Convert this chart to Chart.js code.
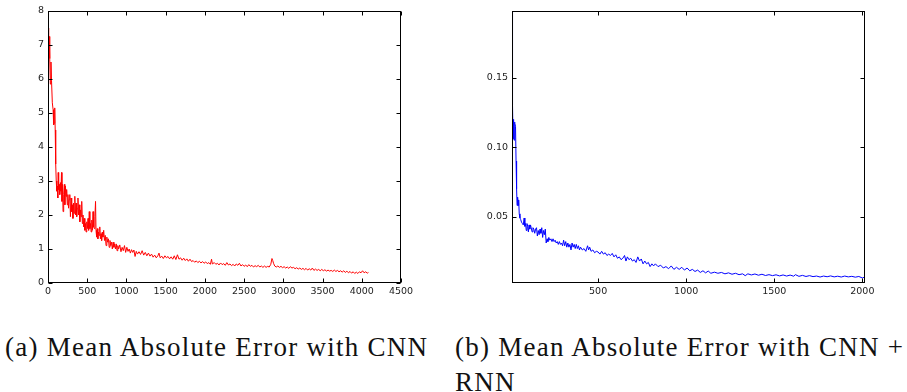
<!DOCTYPE html>
<html>
<head>
<meta charset="utf-8">
<script src="https://cdn.jsdelivr.net/npm/chart.js@4/dist/chart.umd.min.js"></script>
<style>
    body { margin: 0; background: #fff; width: 907px; height: 392px; overflow: hidden; position: relative; }
    .panel { position: absolute; top: 0; }
    .caption { position: absolute; font-family: "Liberation Serif", serif; font-size: 27px; letter-spacing: 1.25px; line-height: 35px; color: #111; white-space: nowrap; }
</style>
</head>
<body>
<div class="panel" style="left:0px"><canvas id="cnn" width="430" height="305"></canvas></div>
<div class="panel" style="left:460px"><canvas id="rnn" width="447" height="305"></canvas></div>
<div class="caption" style="left:5px; top:330px">(a) Mean Absolute Error with CNN</div>
<div class="caption" style="left:455px; top:330px">(b) Mean Absolute Error with CNN +<br>RNN</div>
<script>
// (a) CNN: training step vs mean absolute error
var cnnSteps = [0, 8, 15, 22, 30, 38, 45, 55, 65, 72, 80, 86, 92, 98, 105, 112, 118, 125, 130, 136,
    142, 150, 158, 165, 172, 178, 185, 192, 200, 208, 215, 222, 230, 238, 246, 254, 262, 270, 278, 286,
    294, 302, 310, 318, 326, 334, 342, 350, 358, 366, 374, 382, 390, 398, 406, 414, 422, 430, 438, 446,
    454, 462, 470, 478, 486, 494, 502, 510, 518, 526, 534, 542, 550, 558, 566, 574, 582, 590, 598, 606,
    612, 620, 628, 636, 644, 652, 660, 668, 676, 684, 692, 700, 710, 720, 730, 740, 750, 760, 770, 780,
    790, 800, 810, 820, 830, 840, 850, 860, 870, 880, 890, 900, 915, 930, 945, 960, 975, 990, 1005, 1020,
    1035, 1050, 1065, 1080, 1095, 1110, 1125, 1140, 1160, 1180, 1200, 1220, 1240, 1260, 1280, 1300, 1320, 1340, 1360, 1380,
    1400, 1415, 1430, 1450, 1470, 1490, 1510, 1530, 1550, 1570, 1590, 1610, 1630, 1650, 1670, 1690, 1710, 1730, 1750, 1770,
    1790, 1810, 1830, 1850, 1870, 1890, 1910, 1930, 1950, 1970, 1990, 2010, 2030, 2050, 2070, 2085, 2095, 2120, 2140, 2160,
    2180, 2200, 2220, 2240, 2260, 2280, 2300, 2320, 2340, 2360, 2380, 2400, 2420, 2440, 2460, 2480, 2500, 2520, 2540, 2560,
    2580, 2600, 2620, 2640, 2660, 2680, 2700, 2720, 2740, 2760, 2780, 2800, 2820, 2840, 2855, 2865, 2875, 2890, 2910, 2930,
    2950, 2970, 2990, 3010, 3030, 3050, 3070, 3090, 3110, 3130, 3150, 3170, 3190, 3210, 3230, 3250, 3270, 3290, 3310, 3330,
    3350, 3370, 3390, 3410, 3430, 3450, 3470, 3490, 3510, 3530, 3550, 3570, 3590, 3610, 3630, 3650, 3670, 3690, 3710, 3730,
    3750, 3770, 3790, 3810, 3830, 3850, 3870, 3890, 3910, 3930, 3950, 3970, 3990, 4010, 4030, 4050, 4070, 4085]
var cnnError = [7.5, 6.9, 7.25, 6.6, 5.85, 6.5, 5.95, 5.3, 5.1, 4.65, 4.7, 5.15, 4.5, 3.5, 3.0, 2.7, 2.85, 2.5, 3.25, 2.75,
    2.9, 2.6, 2.95, 2.7, 3.25, 2.4, 2.9, 2.1, 2.6, 2.9, 2.3, 2.85, 2.55, 2.75, 2.3, 2.6, 2.2, 2.45, 2.6, 1.95,
    2.5, 2.1, 2.3, 1.9, 2.35, 2.05, 2.55, 2.0, 2.35, 1.95, 2.2, 2.5, 2.0, 2.3, 1.8, 2.15, 1.95, 2.4, 1.75, 2.0,
    1.65, 1.9, 1.55, 1.75, 1.5, 1.8, 1.6, 1.9, 1.55, 2.1, 1.6, 1.75, 1.5, 1.85, 1.55, 2.1, 1.65, 1.6, 1.95, 2.4,
    1.55, 1.35, 1.6, 1.3, 1.5, 1.4, 1.65, 1.3, 1.45, 1.25, 1.5, 1.35, 1.55, 1.25, 1.4, 1.1, 1.35, 1.2, 1.3, 1.05,
    1.25, 1.1, 1.2, 1.0, 1.2, 1.05, 1.15, 1.0, 1.15, 0.95, 1.1, 1.0, 1.12, 0.92, 1.05, 0.95, 1.1, 0.9, 1.05, 0.93,
    1.0, 0.88, 0.98, 0.9, 0.97, 0.78, 0.93, 0.85, 0.92, 0.84, 0.95, 0.82, 0.9, 0.8, 0.88, 0.79, 0.85, 0.76, 0.82, 0.74,
    0.8, 0.88, 0.74, 0.79, 0.72, 0.8, 0.74, 0.78, 0.71, 0.77, 0.7, 0.8, 0.69, 0.83, 0.7, 0.74, 0.67, 0.73, 0.66, 0.71,
    0.64, 0.7, 0.63, 0.66, 0.61, 0.65, 0.6, 0.64, 0.59, 0.63, 0.58, 0.62, 0.57, 0.6, 0.55, 0.7, 0.56, 0.6, 0.55, 0.58,
    0.53, 0.59, 0.54, 0.57, 0.52, 0.6, 0.53, 0.56, 0.51, 0.55, 0.5, 0.56, 0.52, 0.58, 0.5, 0.54, 0.49, 0.53, 0.48, 0.54,
    0.49, 0.52, 0.47, 0.51, 0.48, 0.52, 0.47, 0.5, 0.46, 0.5, 0.46, 0.49, 0.47, 0.55, 0.72, 0.66, 0.58, 0.5, 0.47, 0.5,
    0.46, 0.49, 0.45, 0.48, 0.44, 0.47, 0.43, 0.48, 0.44, 0.46, 0.42, 0.45, 0.41, 0.44, 0.4, 0.43, 0.39, 0.43, 0.38, 0.42,
    0.38, 0.44, 0.37, 0.41, 0.37, 0.4, 0.36, 0.4, 0.36, 0.39, 0.35, 0.38, 0.35, 0.37, 0.34, 0.38, 0.34, 0.37, 0.33, 0.36,
    0.32, 0.36, 0.31, 0.35, 0.3, 0.34, 0.29, 0.33, 0.28, 0.32, 0.28, 0.33, 0.3, 0.36, 0.3, 0.33, 0.29, 0.31]
var cnnXTicks = [0, 500, 1000, 1500, 2000, 2500, 3000, 3500, 4000, 4500]
var cnnYTicks = [0, 1, 2, 3, 4, 5, 6, 7, 8]

// (b) CNN + RNN
var rnnSteps = [11, 13, 15, 17, 19, 21, 23, 25, 28, 31, 34, 37, 40, 43, 46, 49, 52, 56, 60, 65,
    70, 75, 80, 84, 88, 92, 96, 100, 104, 108, 112, 116, 120, 125, 130, 135, 140, 145, 150, 155,
    160, 165, 170, 175, 180, 185, 190, 195, 200, 205, 210, 215, 220, 226, 232, 238, 244, 250, 256, 262,
    268, 274, 280, 286, 292, 298, 304, 310, 316, 322, 328, 334, 340, 346, 352, 358, 364, 370, 376, 382,
    388, 394, 400, 410, 420, 430, 440, 446, 452, 460, 470, 480, 490, 500, 510, 520, 530, 540, 550, 560,
    570, 580, 590, 600, 610, 620, 630, 640, 650, 658, 666, 675, 685, 695, 705, 715, 725, 735, 745, 755,
    765, 775, 785, 795, 805, 815, 825, 840, 855, 870, 885, 900, 915, 930, 945, 960, 975, 990, 1005, 1020,
    1035, 1050, 1065, 1080, 1095, 1110, 1125, 1140, 1160, 1180, 1200, 1220, 1240, 1260, 1280, 1300, 1320, 1335, 1350, 1370,
    1390, 1410, 1430, 1450, 1470, 1490, 1510, 1530, 1550, 1570, 1590, 1610, 1620, 1640, 1660, 1680, 1700, 1720, 1740, 1760,
    1780, 1800, 1820, 1840, 1860, 1880, 1900, 1920, 1940, 1960, 1980, 2000, 2015]
var rnnError = [0.198, 0.16, 0.13, 0.106, 0.12, 0.119, 0.105, 0.118, 0.117, 0.115, 0.09, 0.07, 0.058, 0.064, 0.058, 0.062, 0.052, 0.049, 0.048, 0.046,
    0.045, 0.044, 0.049, 0.043, 0.045, 0.04, 0.045, 0.043, 0.039, 0.044, 0.041, 0.044, 0.042, 0.039, 0.042, 0.041, 0.038, 0.041, 0.042, 0.036,
    0.04, 0.037, 0.041, 0.038, 0.042, 0.035, 0.04, 0.037, 0.041, 0.031, 0.034, 0.032, 0.035, 0.033, 0.034, 0.032, 0.034, 0.032, 0.033, 0.031,
    0.032, 0.03, 0.032, 0.03, 0.031, 0.029, 0.033, 0.029, 0.032, 0.028, 0.031, 0.028, 0.03, 0.026, 0.031, 0.028, 0.03, 0.027, 0.03, 0.027,
    0.029, 0.026, 0.028, 0.026, 0.027, 0.025, 0.029, 0.026, 0.028, 0.025, 0.026, 0.024, 0.025, 0.0245, 0.023, 0.025, 0.023, 0.024, 0.022, 0.023,
    0.022, 0.0235, 0.021, 0.0225, 0.02, 0.021, 0.019, 0.02, 0.022, 0.018, 0.021, 0.019, 0.02, 0.018, 0.019, 0.017, 0.021, 0.018, 0.0195, 0.016,
    0.018, 0.016, 0.017, 0.014, 0.016, 0.0145, 0.016, 0.014, 0.015, 0.013, 0.014, 0.0125, 0.0145, 0.012, 0.0135, 0.012, 0.0135, 0.0115, 0.013, 0.011,
    0.012, 0.0105, 0.0115, 0.0098, 0.011, 0.0095, 0.0108, 0.0092, 0.01, 0.0092, 0.0098, 0.0088, 0.0095, 0.0085, 0.0092, 0.0082, 0.0088, 0.0075, 0.0088, 0.008,
    0.0087, 0.0078, 0.0085, 0.0076, 0.0082, 0.0075, 0.0081, 0.0073, 0.008, 0.0072, 0.0079, 0.0071, 0.0082, 0.007, 0.0077, 0.0069, 0.0075, 0.0068, 0.0072, 0.0065,
    0.0072, 0.0067, 0.0073, 0.0066, 0.0071, 0.0065, 0.0072, 0.0066, 0.007, 0.0064, 0.0069, 0.0058, 0.0066]
var rnnXTicks = [500, 1000, 1500, 2000]
var rnnYTicks = [0.05, 0.10, 0.15]

// matplotlib style: box all round, ticks pointing inwards on every side
var boxPlugin = {
    id: 'box',
    afterDraw(chart) {
        var { ctx, chartArea, scales } = chart
        var l = Math.round(chartArea.left) + 0.5
        var r = Math.round(chartArea.right) - 0.5
        var t = Math.round(chartArea.top) + 0.5
        var b = Math.round(chartArea.bottom) - 0.5
        ctx.save()
        ctx.strokeStyle = '#000'
        ctx.lineWidth = 1
        ctx.beginPath()
        scales.x.ticks.forEach(function(tk) {
            var px = Math.round(scales.x.getPixelForValue(tk.value)) + 0.5
            ctx.moveTo(px, b); ctx.lineTo(px, b - 4)
            ctx.moveTo(px, t); ctx.lineTo(px, t + 4)
        })
        scales.y.ticks.forEach(function(tk) {
            var py = Math.round(scales.y.getPixelForValue(tk.value)) + 0.5
            ctx.moveTo(l, py); ctx.lineTo(l + 4, py)
            ctx.moveTo(r, py); ctx.lineTo(r - 4, py)
        })
        ctx.stroke()
        ctx.strokeRect(l, t, r - l, b - t)
        ctx.restore()
    }
}

function makeChart(id, steps, values, color, xr, yr, xTicks, yTicks, yWidth, padRight, yFmt) {
    var el = document.getElementById(id)
    var points = steps.map(function(s, i) { return { x: s, y: values[i] } })
    var tickFont = { family: 'DejaVu Sans', size: 9.5 }
    return new Chart(el, {
        type: 'line',
        data: {
            datasets: [{
                data: points,
                borderColor: color,
                borderWidth: 1,
                pointRadius: 0,
                tension: 0,
                fill: false
            }]
        },
        options: {
            responsive: false,
            animation: false,
            layout: { padding: { left: 0, top: 11, right: padRight, bottom: 0 } },
            plugins: { legend: { display: false }, tooltip: { enabled: false } },
            scales: {
                x: {
                    type: 'linear',
                    min: xr[0],
                    max: xr[1],
                    grid: { display: false, drawTicks: false },
                    border: { display: false },
                    afterBuildTicks(scale) { scale.ticks = xTicks.map(function(v) { return { value: v } }) },
                    afterFit(scale) { scale.height = 22 },
                    ticks: { color: '#222', font: tickFont, padding: 3, maxRotation: 0, autoSkip: false,
                        callback: function(v) { return String(v) } }
                },
                y: {
                    min: yr[0],
                    max: yr[1],
                    grid: { display: false, drawTicks: false },
                    border: { display: false },
                    afterBuildTicks(scale) { scale.ticks = yTicks.map(function(v) { return { value: v } }) },
                    afterFit(scale) { scale.width = yWidth },
                    ticks: { color: '#222', font: tickFont, padding: 4, callback: yFmt }
                }
            }
        },
        plugins: [boxPlugin]
    })
}

makeChart('cnn', cnnSteps, cnnError, '#ff0000', [0, 4500], [0, 8], cnnXTicks, cnnYTicks, 48, 29,
    function(v) { return String(v) })
makeChart('rnn', rnnSteps, rnnError, '#0000ff', [11, 2015], [0.0022, 0.198], rnnXTicks, rnnYTicks, 52, 42,
    function(v) { return v.toFixed(2) })
</script>
</body>
</html>
